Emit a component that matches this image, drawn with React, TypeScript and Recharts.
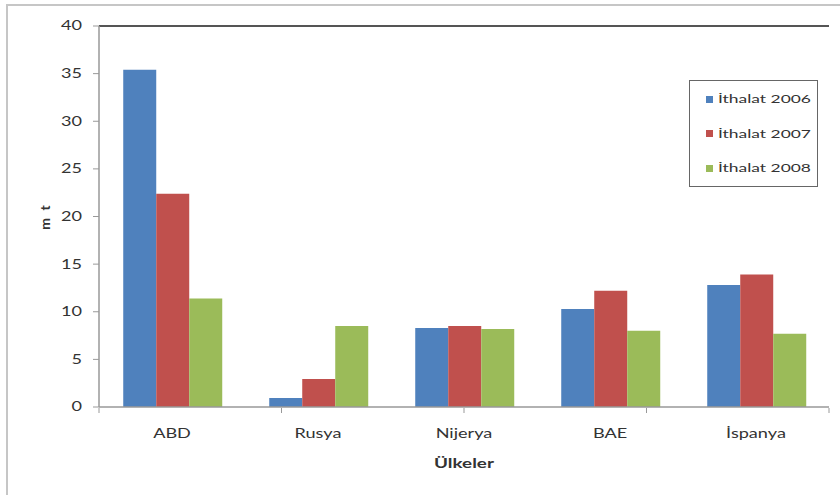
import { BarChart, Bar, XAxis, YAxis, Legend, ReferenceLine } from 'recharts';

const countries = ['ABD', 'Rusya', 'Nijerya', 'BAE', 'İspanya'];
const imports2006 = [35.4, 0.95, 8.3, 10.3, 12.8];
const imports2007 = [22.4, 2.95, 8.5, 12.2, 13.9];
const imports2008 = [11.4, 8.5, 8.2, 8.0, 7.7];
const seriesNames = ['İthalat 2006', 'İthalat 2007', 'İthalat 2008'];
const seriesColors = ['#4f81bd', '#c0504d', '#9bbb59'];
const yTicks = [0, 5, 10, 15, 20, 25, 30, 35, 40];
const boundaryTicks = [0, 1, 2, 3, 4, 5];

const seriesKeys = ['y2006', 'y2007', 'y2008'];
const data = countries.map((country, i) => ({
  country,
  y2006: imports2006[i],
  y2007: imports2007[i],
  y2008: imports2008[i],
}));

const FONT = 'Lato, "Open Sans", sans-serif';
const STRETCH = 1.45;
const TEXT = '#333';

// text widened horizontally around its anchor point
function WideText({ x, y, anchor, dy, bold, size = 12.5, children }: any) {
  return (
    <text
      x={x}
      y={y}
      dy={dy}
      textAnchor={anchor}
      fill={TEXT}
      fontFamily={FONT}
      fontSize={size}
      fontWeight={bold ? 700 : 400}
      transform={`matrix(${STRETCH} 0 0 1 ${x * (1 - STRETCH)} 0)`}
    >
      {children}
    </text>
  );
}

function LegendBox() {
  return (
    <div
      style={{
        position: 'relative',
        width: 129,
        height: 107,
        border: '1.5px solid #666',
        boxSizing: 'border-box',
        background: '#fff',
        fontFamily: FONT,
      }}
    >
      {seriesNames.map((name, i) => (
        <div
          key={name}
          style={{
            position: 'absolute',
            left: 16,
            top: 10 + i * 34.5,
            height: 16,
            display: 'flex',
            alignItems: 'center',
          }}
        >
          <span style={{ width: 7, height: 7, background: seriesColors[i] }} />
          <span
            style={{
              marginLeft: 5,
              fontSize: 12,
              lineHeight: '16px',
              color: TEXT,
              whiteSpace: 'nowrap',
              transform: `scaleX(${STRETCH})`,
              transformOrigin: 'left center',
            }}
          >
            {name}
          </span>
        </div>
      ))}
    </div>
  );
}

export default function App() {
  return (
    <div style={{ position: 'absolute', left: 0, top: 0, width: 840, height: 495, background: '#fff', overflow: 'hidden' }}>
      <div
        style={{
          position: 'absolute',
          left: 6,
          top: 4,
          width: 840,
          height: 495,
          borderTop: '2px solid #c6c6c6',
          borderLeft: '2px solid #c6c6c6',
        }}
      />
      <BarChart
        width={840}
        height={495}
        data={data}
        margin={{ top: 26, right: 11, bottom: 18, left: 20 }}
        barCategoryGap="16.6%"
        barGap={0}
      >
        <XAxis
          dataKey="country"
          height={1}
          tickLine={false}
          tickMargin={16}
          axisLine={{ stroke: '#999', strokeWidth: 1.5 }}
          tick={(p: any) => (
            <WideText x={p.x} y={p.y} anchor="middle" dy="0.71em">
              {p.payload.value}
            </WideText>
          )}
          label={{
            position: 'insideBottom',
            content: (p: any) => {
              const vb = p.viewBox;
              return (
                <WideText x={vb.x + vb.width / 2} y={vb.y + 61} anchor="middle" bold size={13}>
                  Ülkeler
                </WideText>
              );
            },
          }}
        />
        {/* tick marks between categories, stacked right under the category axis */}
        <XAxis
          xAxisId="bounds"
          type="number"
          domain={[0, 5]}
          ticks={boundaryTicks}
          height={69}
          axisLine={false}
          tickSize={5}
          tickLine={{ stroke: '#999', strokeWidth: 1 }}
          tickFormatter={() => ''}
        />
        <YAxis
          width={79}
          domain={[0, 40]}
          ticks={yTicks}
          tickSize={6}
          tickMargin={11}
          axisLine={{ stroke: '#999', strokeWidth: 1.5 }}
          tickLine={{ stroke: '#999', strokeWidth: 1 }}
          tick={(p: any) => (
            <WideText x={p.x} y={p.y} anchor="end" dy="0.355em">
              {p.payload.value}
            </WideText>
          )}
          label={{
            value: 'm t',
            angle: -90,
            position: 'insideLeft',
            offset: 25,
            fill: TEXT,
            fontFamily: FONT,
            fontSize: 14,
            fontWeight: 700,
            letterSpacing: 2,
            style: { textAnchor: 'middle' },
          }}
        />
        <ReferenceLine y={40} stroke="#555" strokeWidth={2} />
        <ReferenceLine x={5} xAxisId="bounds" stroke="#555" strokeWidth={2} />
        {seriesKeys.map((key, i) => (
          <Bar key={key} dataKey={key} name={seriesNames[i]} fill={seriesColors[i]} isAnimationActive={false} />
        ))}
        <Legend
          layout="vertical"
          align="center"
          verticalAlign="middle"
          content={() => <LegendBox />}
          wrapperStyle={{ left: 689, top: 80, width: 129, height: 107 }}
        />
      </BarChart>
    </div>
  );
}
